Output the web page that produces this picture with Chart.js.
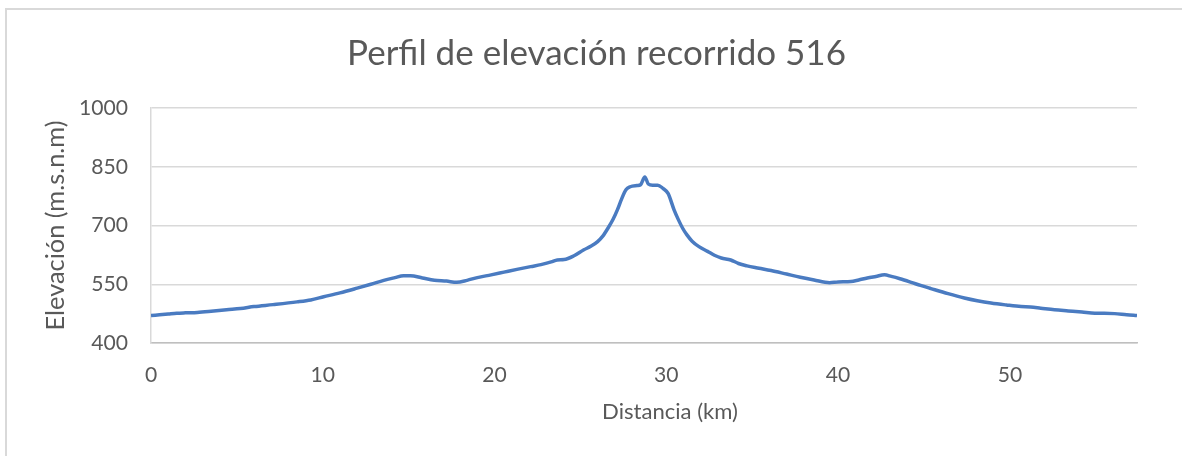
<!DOCTYPE html>
<html><head><meta charset="utf-8">
<script src="https://cdn.jsdelivr.net/npm/chart.js@4.4.1/dist/chart.umd.min.js"></script>
<style>html,body{margin:0;padding:0;background:#fff;overflow:hidden}canvas{display:block}</style>
</head><body>
<canvas id="c" width="1182" height="456"></canvas>
<script>
const chartTitle = "Perfil de elevación recorrido 516";
const xAxisTitle = "Distancia (km)";
const yAxisTitle = "Elevación (m.s.n.m)";
const distanceKm = [0,0.5,1.0,1.5,2.0,2.7,3.5,4.4,5.2,6.0,7.1,8.5,9.3,10.05,11.0,12.0,12.8,13.55,14.2,14.7,15.1,15.8,16.5,17.2,17.8,18.4,19.0,19.8,20.55,21.3,22.1,22.7,23.3,23.65,24.05,24.6,25.2,25.6,26.0,26.3,26.6,26.9,27.15,27.4,27.65,27.9,28.3,28.5,28.75,28.95,29.2,29.5,29.8,30.1,30.45,30.7,30.95,31.2,31.5,31.9,32.4,32.8,33.2,33.75,34.2,34.7,35.4,36.1,37.0,37.8,38.6,39.5,40.0,40.75,41.2,41.7,42.2,42.7,43.1,43.6,44.25,44.8,45.4,46.4,47.35,48.1,48.9,49.8,50.65,51.2,51.8,52.6,53.4,54.2,54.95,55.5,56.1,56.8,57.4];
const elevation = [470,472,474,476,477,478,481,485,488,493,498,505,510,518,528,540,550,560,567,572,572,566,560,558,555,560,567,574,581,588,595,600,607,612,613,622,638,647,659,673,693,716,740,768,791,799,802,804,824,806,803,803,795,782,740,715,693,676,660,646,634,624,617,612,603,597,591,585,576,568,561,554,556,557,561,566,570,574,570,564,555,547,539,526,515,508,502,497,493,492,489,485,482,479,476,476,475,472,470];
const xTickValues = [0,10,20,30,40,50];
const yTickValues = [400,550,700,850,1000];

const FAMILY = 'Lato, "Open Sans", sans-serif';
const TEXT = '#595959';
function fitSize(text, target, weight) {
  const ctx = document.createElement('canvas').getContext('2d');
  ctx.font = weight + ' 100px ' + FAMILY;
  return 100 * target / ctx.measureText(text).width;
}

function draw() {
  const titleSize = fitSize(chartTitle, 499, 400);
  const tickSize = fitSize('1000', 49, 400);
  const xTitleSize = fitSize(xAxisTitle, 136, 400);
  const yTitleSize = fitSize(yAxisTitle, 210, 400);
  const tickLH = tickSize * 1.2;

  const framePlugin = {
    id: 'frame',
    beforeDraw(chart) {
      const c = chart.ctx;
      c.save();
      c.fillStyle = '#fff';
      c.fillRect(0, 0, chart.width, chart.height);
      c.fillStyle = '#d9d9d9';
      c.fillRect(5, 8, chart.width - 5, 2);
      c.fillRect(5, 8, 2, chart.height - 8);
      c.restore();
    },
    afterDraw(chart) {
      const c = chart.ctx;
      const a = chart.chartArea;
      c.save();
      c.fillStyle = TEXT;
      c.textAlign = 'center';
      c.textBaseline = 'alphabetic';
      c.font = '400 ' + titleSize + 'px ' + FAMILY;
      c.fillText(chartTitle, 596.5, 65);
      c.font = '400 ' + xTitleSize + 'px ' + FAMILY;
      c.fillText(xAxisTitle, 670, 419);
      c.font = '400 ' + yTitleSize + 'px ' + FAMILY;
      c.translate(64, (a.top + a.bottom) / 2);
      c.rotate(-Math.PI / 2);
      c.fillText(yAxisTitle, 0, 0);
      c.restore();
    }
  };

  new Chart(document.getElementById('c'), {
    type: 'scatter',
    data: {
      datasets: [{
        data: distanceKm.map((d, i) => ({ x: d, y: elevation[i] })),
        showLine: true,
        borderColor: '#4a7bc1',
        borderWidth: 3.5,
        pointRadius: 0,
        cubicInterpolationMode: 'monotone',
        fill: false
      }]
    },
    options: {
      responsive: false,
      animation: false,
      devicePixelRatio: 1,
      layout: { padding: { left: 0, right: 45, top: 108, bottom: 0 } },
      plugins: { legend: { display: false }, tooltip: { enabled: false }, title: { display: false } },
      scales: {
        x: {
          type: 'linear',
          min: 0,
          max: 57.4,
          afterBuildTicks: (s) => { s.ticks = xTickValues.map(v => ({ value: v })); },
          afterFit: (s) => { s.height = 456 - 343; },
          grid: { display: false, drawTicks: false },
          border: { display: true, color: '#bfbfbf', width: 1.5 },
          ticks: {
            color: TEXT,
            font: { family: FAMILY, size: tickSize, lineHeight: 1.2 },
            padding: 375 - 343 - tickLH / 2,
            maxRotation: 0,
            callback: (v) => String(v)
          }
        },
        y: {
          min: 400,
          max: 1000,
          afterBuildTicks: (s) => { s.ticks = yTickValues.map(v => ({ value: v })); },
          afterFit: (s) => { s.width = 151; },
          grid: { color: '#d9d9d9', lineWidth: 1.5, drawTicks: false },
          border: { display: true, color: '#d9d9d9', width: 1.5 },
          ticks: {
            color: TEXT,
            font: { family: FAMILY, size: tickSize, lineHeight: 1.2 },
            padding: 23,
            callback: (v) => String(v)
          }
        }
      }
    },
    plugins: [framePlugin]
  });
}

const loads = [document.fonts.load('400 20px Lato')];
Promise.race([Promise.all(loads), new Promise(r => setTimeout(r, 1500))]).then(draw, draw);
</script>
</body></html>
